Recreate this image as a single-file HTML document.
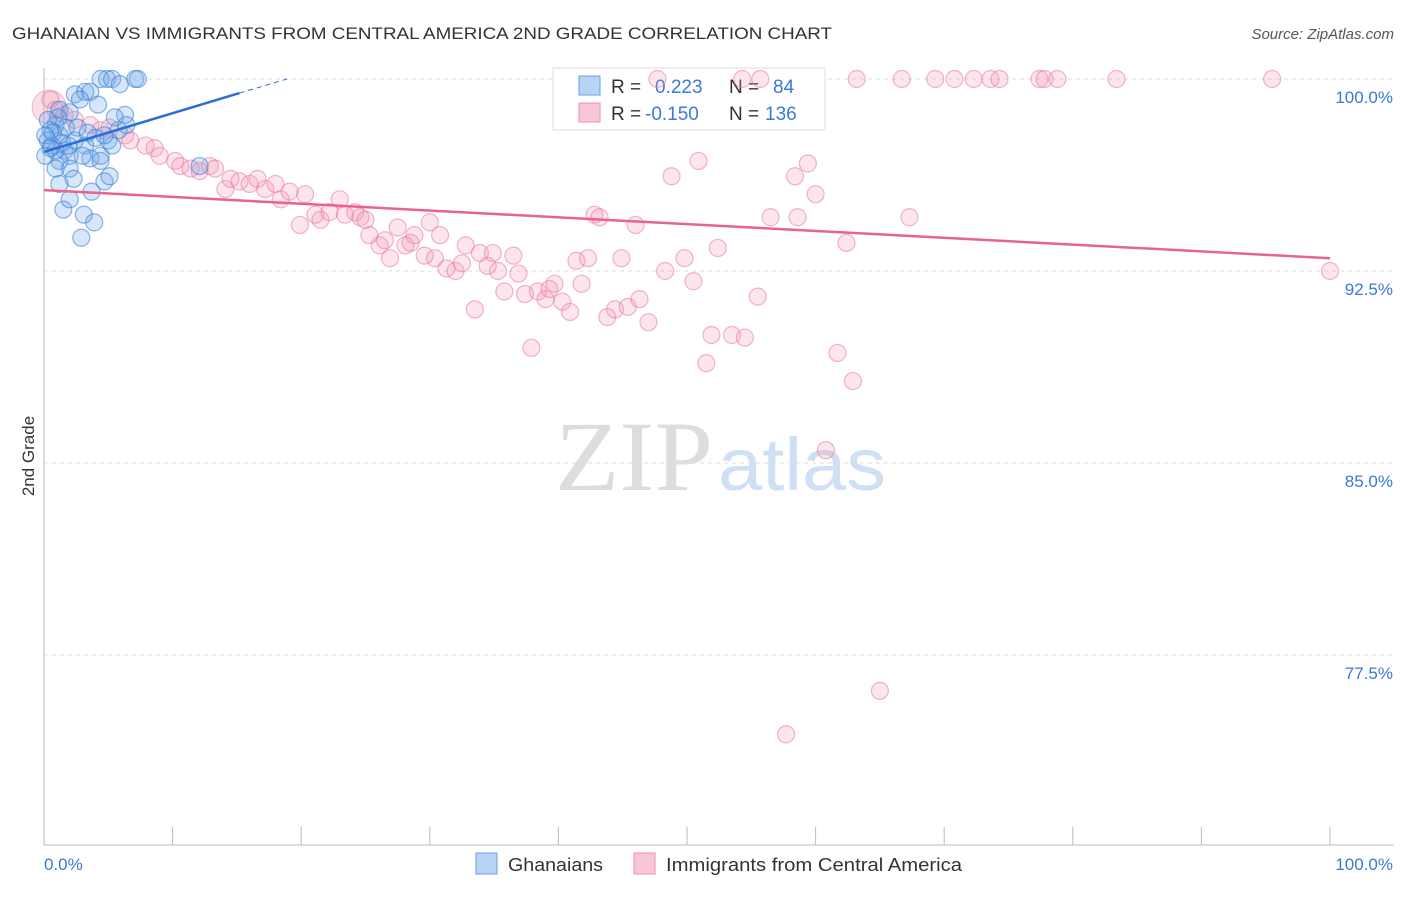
<!DOCTYPE html>
<html><head><meta charset="utf-8"><style>
body{margin:0;background:#fff;font-family:"Liberation Sans",sans-serif;}
svg text{font-family:"Liberation Sans",sans-serif;}
</style></head><body>
<svg id="chart" width="1406" height="892">
<text x="12" y="39" font-size="17" fill="#333" textLength="820" lengthAdjust="spacingAndGlyphs">GHANAIAN VS IMMIGRANTS FROM CENTRAL AMERICA 2ND GRADE CORRELATION CHART</text>
<text x="1394" y="39" font-size="15" fill="#555" text-anchor="end" font-style="italic">Source: ZipAtlas.com</text>
<text x="34" y="456" font-size="17" fill="#333" transform="rotate(-90 34 456)" text-anchor="middle">2nd Grade</text>
<g>
<text x="555" y="490" font-size="100" fill="#ddd" textLength="158" lengthAdjust="spacingAndGlyphs" style="font-family:'Liberation Serif',serif">ZIP</text>
<text x="718" y="490" font-size="74" fill="#cfe0f4" textLength="168" lengthAdjust="spacingAndGlyphs">atlas</text>
</g>
<g id="grid"></g><g id="axes"></g>
<g>
<rect x="553" y="68" width="272" height="62" fill="#fff" stroke="#ddd"/>
<rect x="579" y="76" width="21" height="19" fill="#b7d3f5" stroke="#6aa0e0"/>
<text x="611" y="93" font-size="19" fill="#333">R =</text><text x="655" y="93" font-size="19" fill="#3b78d8">0.223</text>
<text x="729" y="93" font-size="19" fill="#333">N =</text><text x="773" y="93" font-size="19" fill="#3b78d8">84</text>
<rect x="579" y="103" width="21" height="19" fill="#f9c6d6" stroke="#ec90ae"/>
<text x="611" y="120" font-size="19" fill="#333">R =</text><text x="645" y="120" font-size="19" fill="#3b78d8">-0.150</text>
<text x="729" y="120" font-size="19" fill="#333">N =</text><text x="765" y="120" font-size="19" fill="#3b78d8">136</text>
</g>
<g id="pts"></g><g id="trends"></g>
<g>
<rect x="476" y="853" width="21" height="21" fill="#b7d3f5" stroke="#6aa0e0"/>
<text x="508" y="871" font-size="18" fill="#333" textLength="95" lengthAdjust="spacingAndGlyphs">Ghanaians</text>
<rect x="634" y="853" width="21" height="21" fill="#f9c6d6" stroke="#ec90ae"/>
<text x="666" y="871" font-size="18" fill="#333" textLength="296" lengthAdjust="spacingAndGlyphs">Immigrants from Central America</text>
</g>
</svg>
<script>
const blueX=[4.4,4.9,5.3,7.1,7.3,5.9,2.4,3.2,3.6,2.8,4.2,1.2,2.0,0.9,0.5,1.2,2.4,3.2,1.6,2.0,3.6,4.4,1.2,2.0,2.3,1.2,3.7,4.7,5.1,1.5,2.0,3.1,3.9,2.9,0.3,0.6,0.9,0.1,5.8,6.3,6.4,5.5,5.0,5.3,4.7,12.1,1.1,1.7,0.3,0.7,1.4,2.6,3.4,4.0,4.4,0.1,0.5,1.9,0.9,3.0];
const blueY=[100,100,100,100,100,99.8,99.4,99.5,99.5,99.2,99.0,98.8,98.7,98.2,98.0,97.8,97.6,97.4,97.2,97.0,96.9,97.0,96.8,96.5,96.1,95.9,95.6,96.0,96.2,94.9,95.3,94.7,94.4,93.8,97.6,97.4,97.2,97.0,98.0,98.6,98.2,98.5,97.6,97.4,97.8,96.6,98.5,98.1,98.4,97.9,97.5,98.1,97.9,97.7,96.8,97.8,97.3,97.4,96.5,97.0];
const pinkX=[47.7,54.3,55.7,63.2,66.7,69.3,70.8,72.3,73.6,74.3,77.4,77.8,78.8,83.4,95.5,0.5,0.9,1.6,2.4,3.6,4.4,5.1,6.3,6.7,7.9,8.6,9.0,10.2,10.6,11.4,12.1,12.9,13.3,14.1,14.5,15.2,16.0,16.6,17.2,18.0,18.4,19.1,20.3,19.9,21.1,21.5,22.2,23.0,23.4,24.2,24.6,25.0,25.3,26.1,26.5,26.9,27.5,28.1,28.5,28.8,29.6,30.0,30.4,30.8,31.3,32.0,32.5,32.8,33.5,33.9,34.5,34.9,35.3,35.8,36.5,36.9,37.4,37.9,38.4,39.0,39.3,39.7,40.3,40.9,41.4,41.8,42.3,42.8,43.2,43.8,44.4,44.9,45.4,46.0,46.3,47.0,48.3,48.8,49.8,50.5,50.9,51.5,51.9,52.4,53.5,54.5,55.5,56.5,58.4,58.6,59.4,60.0,61.7,62.4,62.9,60.8,65.0,57.7,67.3,100];
const pinkY=[100,100,100,100,100,100,100,100,100,100,100,100,100,100,100,99.2,98.8,98.6,98.4,98.2,98.0,98.1,97.8,97.6,97.4,97.3,97.0,96.8,96.6,96.5,96.4,96.6,96.5,95.7,96.1,96.0,95.9,96.1,95.7,95.9,95.3,95.6,95.5,94.3,94.7,94.5,94.8,95.3,94.7,94.8,94.6,94.5,93.9,93.5,93.7,93.0,94.2,93.5,93.6,93.9,93.1,94.4,93.0,93.9,92.6,92.5,92.8,93.5,91.0,93.2,92.7,93.2,92.5,91.7,93.1,92.4,91.6,89.5,91.7,91.4,91.8,92.0,91.3,90.9,92.9,92.0,93.0,94.7,94.6,90.7,91.0,93.0,91.1,94.3,91.4,90.5,92.5,96.2,93.0,92.1,96.8,88.9,90.0,93.4,90.0,89.9,91.5,94.6,96.2,94.6,96.7,95.5,89.3,93.6,88.2,85.5,76.1,74.4,94.6,92.5];
const blueTrendX=[0,15.2,18.9];
const blueTrendY=[97.15,99.45,100];
const pinkTrendX=[0,100];
const pinkTrendY=[95.66,93.0];
const yTicks=[100,92.5,85,77.5];
const yTickLabels=["100.0%","92.5%","85.0%","77.5%"];
const xTickVals=[0,10,20,30,40,50,60,70,80,90,100];

const X=v=>44+v*12.86;
const Y=v=>79+(100-v)*25.6;
const NS="http://www.w3.org/2000/svg";
function mk(tag,attrs,parent){const e=document.createElementNS(NS,tag);for(const k in attrs)e.setAttribute(k,attrs[k]);document.getElementById(parent).appendChild(e);return e;}

yTicks.forEach((t,i)=>{
  const l=mk('line',{x1:44,x2:1394,y1:Y(t),y2:Y(t),stroke:'#ddd','stroke-dasharray':'4,4'},'grid');
  
  
  const tx=mk('text',{x:1393,y:Y(t)+24,'font-size':17,fill:'#3b78d8','text-anchor':'end'},'grid');
  tx.textContent=yTickLabels[i];
  
  
});
const ax=mk('line',{x1:44,x2:44,y1:68,y2:845,stroke:'#bbb'},'axes');


const bx=mk('line',{x1:44,x2:1394,y1:845,y2:845,stroke:'#bbb'},'axes');


xTickVals.forEach(v=>{
  const t=mk('line',{x1:X(v),x2:X(v),y1:827,y2:845,stroke:'#bbb'},'axes');
  
  
});
const xl0=mk('text',{x:44,y:870,'font-size':17,fill:'#3b78d8'},'axes');xl0.textContent='0.0%';


const xl1=mk('text',{x:1393,y:870,'font-size':17,fill:'#3b78d8','text-anchor':'end'},'axes');xl1.textContent='100.0%';



const big=mk('circle',{cx:X(0.4),cy:Y(98.9),r:17,fill:'rgba(242,150,180,0.3)',stroke:'rgba(232,120,160,0.5)'},'pts');


pinkX.forEach((x,i)=>{
  const c=mk('circle',{cx:X(x),cy:Y(pinkY[i]),r:8.5,fill:'rgba(242,150,180,0.25)',stroke:'rgba(232,120,160,0.55)','stroke-width':1.2},'pts');
  
  
});
blueX.forEach((x,i)=>{
  const c=mk('circle',{cx:X(x),cy:Y(blueY[i]),r:8.5,fill:'rgba(110,165,230,0.28)',stroke:'rgba(60,130,215,0.6)','stroke-width':1.2},'pts');
  
  
});
const bt=mk('line',{x1:X(blueTrendX[0]),y1:Y(blueTrendY[0]),x2:X(blueTrendX[1]),y2:Y(blueTrendY[1]),stroke:'#2a6fd6','stroke-width':2.5},'trends');


const bd=mk('line',{x1:X(blueTrendX[1]),y1:Y(blueTrendY[1]),x2:X(blueTrendX[2]),y2:Y(blueTrendY[2]),stroke:'#2a6fd6','stroke-width':1,'stroke-dasharray':'5,4'},'trends');


const pt=mk('line',{x1:X(pinkTrendX[0]),y1:Y(pinkTrendY[0]),x2:X(pinkTrendX[1]),y2:Y(pinkTrendY[1]),stroke:'#e8638f','stroke-width':2.5},'trends');


</script>
</body></html>
